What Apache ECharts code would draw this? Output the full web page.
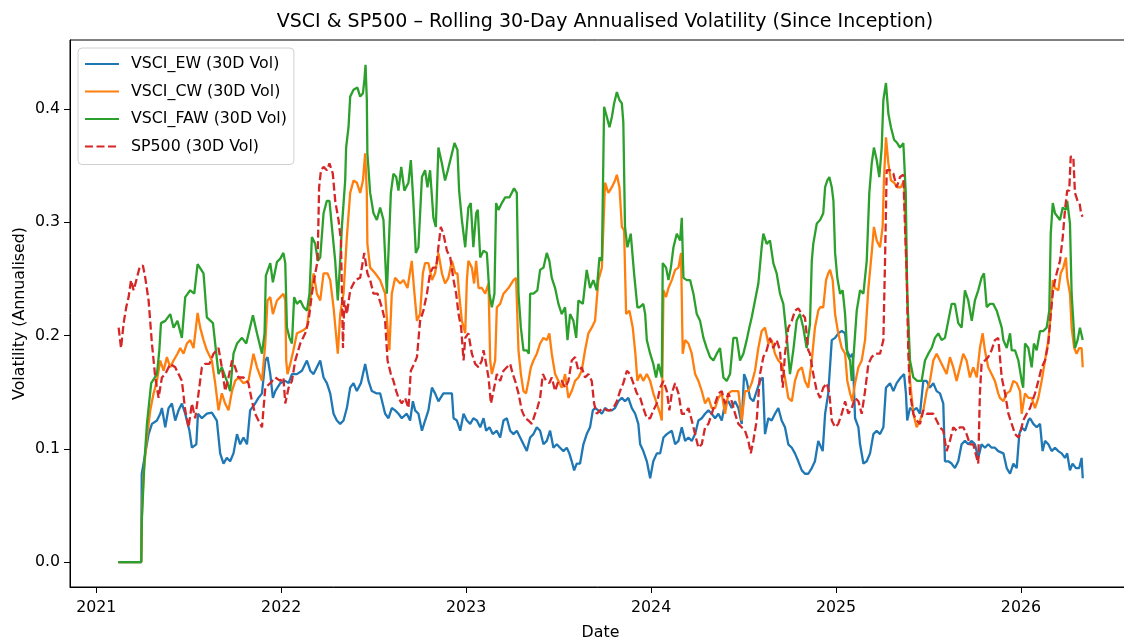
<!DOCTYPE html>
<html>
<head>
    <meta charset="utf-8">
    <title>VSCI & SP500 Rolling 30-Day Volatility</title>
    <script src="https://cdn.jsdelivr.net/npm/echarts@6/dist/echarts.min.js"></script>
    <style>
        html, body { margin: 0; padding: 0; background: #fff; }
    </style>
</head>
<body>
    <div id="main" style="width: 1124px; height: 640px;"></div>

    <script>
        // x = decimal year, y = annualised 30D volatility
        var xTicks = [2021, 2022, 2023, 2024, 2025, 2026];
        var yTicks = [0, 0.1, 0.2, 0.3, 0.4];

        var ewData = [[2021.119,0],[2021.243,0],[2021.246,0.078],[2021.256,0.078],[2021.265,0.096],[2021.283,0.113],[2021.301,0.122],[2021.328,0.125],[2021.346,0.131],[2021.355,0.136],[2021.373,0.119],[2021.391,0.136],[2021.409,0.140],[2021.427,0.125],[2021.445,0.134],[2021.463,0.140],[2021.481,0.131],[2021.504,0.116],[2021.517,0.101],[2021.541,0.104],[2021.550,0.131],[2021.571,0.127],[2021.598,0.131],[2021.625,0.132],[2021.652,0.125],[2021.670,0.096],[2021.688,0.087],[2021.706,0.092],[2021.724,0.089],[2021.742,0.096],[2021.761,0.113],[2021.778,0.104],[2021.796,0.110],[2021.815,0.104],[2021.832,0.134],[2021.859,0.140],[2021.877,0.145],[2021.896,0.149],[2021.914,0.178],[2021.926,0.181],[2021.941,0.166],[2021.955,0.145],[2021.968,0.151],[2021.995,0.158],[2022.022,0.160],[2022.040,0.158],[2022.058,0.166],[2022.085,0.166],[2022.112,0.169],[2022.139,0.178],[2022.157,0.169],[2022.175,0.166],[2022.193,0.172],[2022.211,0.178],[2022.229,0.163],[2022.247,0.158],[2022.265,0.149],[2022.283,0.131],[2022.301,0.125],[2022.319,0.122],[2022.337,0.125],[2022.355,0.136],[2022.373,0.154],[2022.391,0.158],[2022.409,0.151],[2022.431,0.158],[2022.454,0.175],[2022.472,0.160],[2022.490,0.151],[2022.514,0.149],[2022.535,0.149],[2022.562,0.131],[2022.580,0.127],[2022.598,0.136],[2022.616,0.134],[2022.634,0.131],[2022.652,0.127],[2022.679,0.131],[2022.697,0.125],[2022.712,0.142],[2022.724,0.134],[2022.742,0.131],[2022.761,0.116],[2022.778,0.125],[2022.796,0.134],[2022.815,0.154],[2022.832,0.149],[2022.850,0.142],[2022.877,0.149],[2022.904,0.149],[2022.923,0.149],[2022.932,0.127],[2022.950,0.125],[2022.968,0.116],[2022.986,0.131],[2023.004,0.125],[2023.022,0.122],[2023.039,0.127],[2023.058,0.125],[2023.076,0.119],[2023.094,0.127],[2023.108,0.116],[2023.126,0.119],[2023.144,0.113],[2023.166,0.116],[2023.184,0.110],[2023.202,0.125],[2023.220,0.127],[2023.238,0.116],[2023.256,0.113],[2023.274,0.116],[2023.292,0.110],[2023.310,0.104],[2023.328,0.098],[2023.346,0.110],[2023.364,0.113],[2023.382,0.119],[2023.400,0.116],[2023.418,0.104],[2023.436,0.107],[2023.454,0.116],[2023.472,0.101],[2023.490,0.104],[2023.508,0.101],[2023.526,0.098],[2023.544,0.101],[2023.558,0.096],[2023.571,0.089],[2023.584,0.081],[2023.598,0.087],[2023.616,0.087],[2023.634,0.104],[2023.652,0.113],[2023.670,0.119],[2023.685,0.134],[2023.697,0.136],[2023.715,0.134],[2023.734,0.131],[2023.751,0.136],[2023.769,0.134],[2023.788,0.134],[2023.805,0.136],[2023.823,0.142],[2023.842,0.145],[2023.859,0.142],[2023.877,0.145],[2023.896,0.136],[2023.914,0.131],[2023.931,0.122],[2023.941,0.104],[2023.958,0.098],[2023.977,0.089],[2023.995,0.074],[2024.012,0.089],[2024.031,0.096],[2024.049,0.096],[2024.067,0.110],[2024.085,0.113],[2024.112,0.116],[2024.130,0.104],[2024.148,0.107],[2024.166,0.119],[2024.184,0.107],[2024.202,0.110],[2024.220,0.107],[2024.238,0.113],[2024.256,0.125],[2024.274,0.127],[2024.292,0.131],[2024.310,0.134],[2024.328,0.131],[2024.346,0.127],[2024.364,0.131],[2024.382,0.125],[2024.400,0.140],[2024.418,0.142],[2024.436,0.136],[2024.454,0.142],[2024.472,0.136],[2024.490,0.122],[2024.503,0.166],[2024.517,0.160],[2024.535,0.145],[2024.553,0.142],[2024.571,0.151],[2024.589,0.160],[2024.604,0.163],[2024.616,0.113],[2024.634,0.127],[2024.652,0.125],[2024.670,0.131],[2024.688,0.136],[2024.706,0.125],[2024.724,0.119],[2024.742,0.104],[2024.761,0.101],[2024.778,0.096],[2024.796,0.089],[2024.815,0.081],[2024.832,0.078],[2024.850,0.078],[2024.869,0.083],[2024.886,0.089],[2024.904,0.107],[2024.914,0.107],[2024.928,0.098],[2024.941,0.131],[2024.958,0.149],[2024.977,0.196],[2024.995,0.198],[2025.012,0.202],[2025.031,0.204],[2025.049,0.202],[2025.058,0.187],[2025.076,0.181],[2025.090,0.184],[2025.103,0.127],[2025.121,0.119],[2025.130,0.104],[2025.148,0.087],[2025.166,0.089],[2025.184,0.096],[2025.202,0.113],[2025.220,0.116],[2025.238,0.113],[2025.256,0.119],[2025.270,0.154],[2025.292,0.158],[2025.310,0.151],[2025.328,0.158],[2025.350,0.163],[2025.368,0.166],[2025.378,0.149],[2025.385,0.125],[2025.400,0.136],[2025.418,0.134],[2025.436,0.136],[2025.454,0.131],[2025.472,0.160],[2025.490,0.160],[2025.508,0.154],[2025.526,0.158],[2025.544,0.151],[2025.562,0.149],[2025.580,0.140],[2025.589,0.089],[2025.607,0.089],[2025.625,0.087],[2025.643,0.083],[2025.661,0.089],[2025.679,0.104],[2025.697,0.107],[2025.715,0.104],[2025.734,0.107],[2025.751,0.104],[2025.769,0.092],[2025.787,0.104],[2025.805,0.101],[2025.823,0.104],[2025.841,0.101],[2025.859,0.101],[2025.877,0.098],[2025.905,0.096],[2025.923,0.083],[2025.941,0.078],[2025.959,0.087],[2025.977,0.083],[2025.991,0.113],[2026.004,0.119],[2026.022,0.116],[2026.040,0.125],[2026.049,0.127],[2026.067,0.122],[2026.085,0.119],[2026.103,0.122],[2026.117,0.098],[2026.130,0.107],[2026.148,0.104],[2026.166,0.098],[2026.184,0.101],[2026.202,0.098],[2026.220,0.096],[2026.238,0.092],[2026.250,0.096],[2026.265,0.081],[2026.279,0.087],[2026.297,0.083],[2026.315,0.083],[2026.328,0.092],[2026.334,0.074]];

        var cwData = [[2021.119,0],[2021.243,0],[2021.246,0.039],[2021.256,0.078],[2021.274,0.110],[2021.292,0.134],[2021.310,0.149],[2021.328,0.160],[2021.346,0.178],[2021.364,0.169],[2021.382,0.181],[2021.400,0.172],[2021.418,0.178],[2021.439,0.184],[2021.454,0.189],[2021.472,0.184],[2021.490,0.193],[2021.508,0.196],[2021.526,0.189],[2021.548,0.220],[2021.562,0.207],[2021.580,0.196],[2021.598,0.187],[2021.625,0.178],[2021.643,0.158],[2021.661,0.134],[2021.679,0.149],[2021.697,0.140],[2021.715,0.134],[2021.734,0.151],[2021.751,0.160],[2021.769,0.163],[2021.796,0.158],[2021.823,0.160],[2021.850,0.184],[2021.869,0.172],[2021.896,0.160],[2021.914,0.193],[2021.926,0.231],[2021.941,0.234],[2021.955,0.219],[2021.977,0.231],[2021.995,0.234],[2022.012,0.237],[2022.022,0.231],[2022.027,0.178],[2022.034,0.166],[2022.049,0.175],[2022.066,0.187],[2022.085,0.202],[2022.112,0.204],[2022.139,0.207],[2022.157,0.231],[2022.175,0.255],[2022.193,0.237],[2022.211,0.231],[2022.229,0.255],[2022.250,0.255],[2022.265,0.249],[2022.283,0.225],[2022.296,0.202],[2022.306,0.184],[2022.319,0.219],[2022.337,0.237],[2022.355,0.287],[2022.373,0.326],[2022.391,0.337],[2022.409,0.335],[2022.427,0.326],[2022.442,0.337],[2022.454,0.361],[2022.463,0.326],[2022.466,0.281],[2022.481,0.260],[2022.508,0.255],[2022.535,0.249],[2022.562,0.237],[2022.575,0.207],[2022.585,0.187],[2022.598,0.237],[2022.616,0.251],[2022.643,0.246],[2022.661,0.249],[2022.683,0.242],[2022.706,0.266],[2022.719,0.240],[2022.734,0.213],[2022.751,0.219],[2022.766,0.255],[2022.778,0.264],[2022.796,0.264],[2022.815,0.249],[2022.832,0.255],[2022.850,0.273],[2022.869,0.255],[2022.886,0.246],[2022.904,0.251],[2022.923,0.266],[2022.941,0.255],[2022.953,0.255],[2022.962,0.237],[2022.977,0.213],[2022.995,0.202],[2023.004,0.249],[2023.012,0.266],[2023.031,0.260],[2023.043,0.246],[2023.054,0.266],[2023.067,0.242],[2023.085,0.242],[2023.103,0.237],[2023.121,0.246],[2023.130,0.178],[2023.139,0.166],[2023.157,0.178],[2023.166,0.225],[2023.184,0.228],[2023.202,0.237],[2023.229,0.242],[2023.256,0.249],[2023.270,0.251],[2023.283,0.187],[2023.296,0.166],[2023.310,0.151],[2023.324,0.149],[2023.337,0.160],[2023.350,0.172],[2023.364,0.178],[2023.382,0.184],[2023.400,0.193],[2023.418,0.198],[2023.436,0.196],[2023.450,0.202],[2023.463,0.184],[2023.481,0.166],[2023.499,0.160],[2023.517,0.154],[2023.535,0.166],[2023.553,0.145],[2023.571,0.151],[2023.589,0.160],[2023.607,0.163],[2023.625,0.169],[2023.643,0.187],[2023.661,0.202],[2023.679,0.207],[2023.697,0.213],[2023.715,0.249],[2023.734,0.260],[2023.751,0.335],[2023.769,0.326],[2023.788,0.331],[2023.805,0.337],[2023.815,0.342],[2023.829,0.331],[2023.842,0.296],[2023.854,0.293],[2023.865,0.219],[2023.883,0.222],[2023.901,0.207],[2023.915,0.184],[2023.926,0.160],[2023.941,0.166],[2023.958,0.160],[2023.977,0.166],[2023.995,0.160],[2024.012,0.149],[2024.031,0.140],[2024.049,0.131],[2024.058,0.125],[2024.067,0.240],[2024.081,0.234],[2024.094,0.242],[2024.112,0.249],[2024.130,0.258],[2024.148,0.260],[2024.162,0.273],[2024.171,0.184],[2024.184,0.196],[2024.202,0.193],[2024.220,0.184],[2024.238,0.166],[2024.256,0.160],[2024.274,0.151],[2024.292,0.140],[2024.310,0.145],[2024.328,0.136],[2024.346,0.136],[2024.364,0.145],[2024.382,0.149],[2024.400,0.131],[2024.418,0.149],[2024.436,0.151],[2024.454,0.151],[2024.472,0.151],[2024.490,0.125],[2024.508,0.151],[2024.526,0.151],[2024.544,0.158],[2024.562,0.169],[2024.580,0.189],[2024.598,0.204],[2024.616,0.207],[2024.634,0.193],[2024.652,0.196],[2024.670,0.184],[2024.688,0.178],[2024.706,0.175],[2024.724,0.163],[2024.742,0.145],[2024.761,0.142],[2024.778,0.160],[2024.796,0.169],[2024.815,0.172],[2024.832,0.160],[2024.850,0.154],[2024.869,0.178],[2024.886,0.207],[2024.904,0.222],[2024.914,0.225],[2024.931,0.225],[2024.946,0.249],[2024.958,0.255],[2024.968,0.258],[2024.982,0.249],[2024.995,0.219],[2025.012,0.202],[2025.031,0.189],[2025.049,0.184],[2025.061,0.160],[2025.076,0.149],[2025.088,0.142],[2025.103,0.158],[2025.121,0.172],[2025.139,0.178],[2025.157,0.196],[2025.175,0.242],[2025.193,0.273],[2025.205,0.296],[2025.220,0.284],[2025.238,0.278],[2025.252,0.296],[2025.259,0.337],[2025.270,0.375],[2025.283,0.352],[2025.297,0.337],[2025.314,0.335],[2025.331,0.331],[2025.350,0.331],[2025.368,0.337],[2025.378,0.278],[2025.388,0.219],[2025.400,0.160],[2025.418,0.131],[2025.436,0.119],[2025.454,0.125],[2025.472,0.134],[2025.490,0.151],[2025.508,0.160],[2025.526,0.178],[2025.544,0.184],[2025.562,0.178],[2025.580,0.172],[2025.598,0.166],[2025.616,0.181],[2025.634,0.172],[2025.652,0.160],[2025.670,0.172],[2025.688,0.184],[2025.706,0.178],[2025.724,0.163],[2025.742,0.172],[2025.761,0.163],[2025.778,0.189],[2025.793,0.202],[2025.805,0.187],[2025.823,0.172],[2025.841,0.166],[2025.859,0.160],[2025.877,0.149],[2025.886,0.145],[2025.905,0.142],[2025.923,0.149],[2025.941,0.151],[2025.959,0.160],[2025.977,0.158],[2025.995,0.151],[2026.004,0.131],[2026.022,0.149],[2026.040,0.145],[2026.058,0.145],[2026.076,0.136],[2026.094,0.145],[2026.112,0.160],[2026.130,0.178],[2026.148,0.196],[2026.161,0.219],[2026.172,0.249],[2026.184,0.242],[2026.202,0.240],[2026.215,0.255],[2026.229,0.260],[2026.243,0.269],[2026.250,0.251],[2026.265,0.237],[2026.274,0.207],[2026.288,0.189],[2026.301,0.184],[2026.315,0.189],[2026.328,0.189],[2026.334,0.172]];

        var fawData = [[2021.119,0],[2021.243,0],[2021.247,0.039],[2021.261,0.090],[2021.274,0.122],[2021.297,0.158],[2021.328,0.166],[2021.341,0.187],[2021.350,0.211],[2021.373,0.213],[2021.400,0.219],[2021.418,0.207],[2021.439,0.213],[2021.463,0.198],[2021.481,0.234],[2021.508,0.240],[2021.530,0.237],[2021.548,0.263],[2021.580,0.255],[2021.598,0.216],[2021.631,0.211],[2021.661,0.166],[2021.679,0.172],[2021.706,0.160],[2021.724,0.151],[2021.742,0.184],[2021.761,0.193],[2021.788,0.198],[2021.811,0.193],[2021.847,0.218],[2021.869,0.202],[2021.896,0.184],[2021.910,0.202],[2021.917,0.253],[2021.941,0.264],[2021.955,0.247],[2021.977,0.265],[2021.995,0.268],[2022.012,0.273],[2022.022,0.264],[2022.031,0.207],[2022.045,0.198],[2022.058,0.193],[2022.070,0.234],[2022.085,0.228],[2022.103,0.231],[2022.121,0.225],[2022.139,0.222],[2022.153,0.237],[2022.166,0.287],[2022.184,0.281],[2022.198,0.266],[2022.211,0.269],[2022.229,0.308],[2022.247,0.319],[2022.261,0.319],[2022.274,0.296],[2022.292,0.266],[2022.306,0.231],[2022.319,0.266],[2022.328,0.296],[2022.346,0.337],[2022.351,0.366],[2022.364,0.384],[2022.373,0.411],[2022.391,0.417],[2022.412,0.419],[2022.427,0.411],[2022.442,0.414],[2022.450,0.426],[2022.456,0.439],[2022.463,0.408],[2022.466,0.361],[2022.481,0.326],[2022.499,0.308],[2022.517,0.302],[2022.535,0.313],[2022.553,0.302],[2022.571,0.237],[2022.580,0.273],[2022.593,0.326],[2022.607,0.343],[2022.622,0.340],[2022.634,0.328],[2022.649,0.349],[2022.666,0.328],[2022.688,0.335],[2022.701,0.355],[2022.715,0.317],[2022.728,0.273],[2022.742,0.278],[2022.761,0.340],[2022.778,0.346],[2022.791,0.331],[2022.805,0.346],[2022.823,0.304],[2022.836,0.296],[2022.850,0.366],[2022.869,0.352],[2022.886,0.337],[2022.901,0.346],[2022.919,0.358],[2022.937,0.370],[2022.941,0.371],[2022.953,0.364],[2022.962,0.328],[2022.977,0.302],[2022.995,0.278],[2023.012,0.313],[2023.025,0.317],[2023.039,0.278],[2023.054,0.308],[2023.063,0.311],[2023.076,0.269],[2023.094,0.275],[2023.112,0.273],[2023.126,0.237],[2023.139,0.225],[2023.153,0.237],[2023.162,0.317],[2023.175,0.311],[2023.193,0.317],[2023.211,0.322],[2023.234,0.322],[2023.259,0.330],[2023.274,0.326],[2023.283,0.237],[2023.296,0.207],[2023.310,0.187],[2023.328,0.187],[2023.339,0.184],[2023.346,0.237],[2023.364,0.237],[2023.385,0.240],[2023.400,0.258],[2023.418,0.260],[2023.436,0.273],[2023.450,0.266],[2023.463,0.251],[2023.481,0.242],[2023.499,0.228],[2023.517,0.219],[2023.535,0.225],[2023.548,0.196],[2023.562,0.219],[2023.580,0.213],[2023.595,0.198],[2023.607,0.231],[2023.631,0.228],[2023.652,0.258],[2023.670,0.242],[2023.688,0.249],[2023.706,0.240],[2023.721,0.269],[2023.734,0.266],[2023.746,0.402],[2023.761,0.393],[2023.775,0.384],[2023.788,0.393],[2023.800,0.405],[2023.815,0.415],[2023.829,0.408],[2023.842,0.405],[2023.850,0.388],[2023.859,0.296],[2023.872,0.278],[2023.890,0.290],[2023.908,0.255],[2023.926,0.225],[2023.937,0.225],[2023.958,0.228],[2023.968,0.219],[2023.977,0.196],[2023.995,0.184],[2024.012,0.175],[2024.027,0.163],[2024.040,0.175],[2024.058,0.163],[2024.063,0.264],[2024.081,0.260],[2024.094,0.249],[2024.107,0.260],[2024.121,0.278],[2024.139,0.290],[2024.157,0.284],[2024.166,0.304],[2024.175,0.251],[2024.193,0.249],[2024.211,0.249],[2024.229,0.237],[2024.247,0.219],[2024.265,0.213],[2024.283,0.198],[2024.301,0.189],[2024.319,0.181],[2024.337,0.178],[2024.355,0.184],[2024.373,0.189],[2024.391,0.163],[2024.409,0.160],[2024.427,0.166],[2024.445,0.198],[2024.463,0.198],[2024.481,0.178],[2024.499,0.184],[2024.517,0.196],[2024.531,0.207],[2024.544,0.216],[2024.562,0.231],[2024.580,0.246],[2024.598,0.278],[2024.607,0.290],[2024.625,0.281],[2024.643,0.284],[2024.661,0.264],[2024.679,0.255],[2024.697,0.237],[2024.715,0.228],[2024.734,0.198],[2024.751,0.166],[2024.769,0.187],[2024.787,0.213],[2024.805,0.219],[2024.823,0.207],[2024.841,0.189],[2024.859,0.210],[2024.869,0.266],[2024.877,0.281],[2024.896,0.299],[2024.914,0.302],[2024.931,0.308],[2024.941,0.331],[2024.953,0.337],[2024.964,0.340],[2024.977,0.331],[2024.986,0.319],[2024.995,0.273],[2025.007,0.251],[2025.022,0.237],[2025.036,0.240],[2025.049,0.219],[2025.061,0.184],[2025.076,0.178],[2025.085,0.160],[2025.097,0.187],[2025.112,0.222],[2025.130,0.240],[2025.148,0.237],[2025.166,0.266],[2025.180,0.326],[2025.193,0.352],[2025.205,0.366],[2025.220,0.355],[2025.234,0.340],[2025.247,0.366],[2025.256,0.408],[2025.270,0.423],[2025.283,0.396],[2025.297,0.384],[2025.314,0.373],[2025.331,0.370],[2025.346,0.366],[2025.364,0.370],[2025.377,0.326],[2025.385,0.237],[2025.400,0.178],[2025.418,0.163],[2025.439,0.160],[2025.463,0.160],[2025.481,0.178],[2025.499,0.184],[2025.517,0.189],[2025.535,0.198],[2025.553,0.202],[2025.571,0.196],[2025.589,0.198],[2025.607,0.213],[2025.625,0.228],[2025.643,0.228],[2025.661,0.211],[2025.679,0.207],[2025.697,0.240],[2025.715,0.231],[2025.734,0.213],[2025.751,0.231],[2025.769,0.240],[2025.787,0.251],[2025.800,0.255],[2025.815,0.225],[2025.832,0.228],[2025.850,0.228],[2025.869,0.222],[2025.896,0.207],[2025.905,0.196],[2025.923,0.189],[2025.941,0.202],[2025.950,0.187],[2025.968,0.187],[2025.986,0.178],[2026.004,0.160],[2026.012,0.154],[2026.022,0.193],[2026.040,0.189],[2026.058,0.172],[2026.070,0.193],[2026.085,0.187],[2026.103,0.204],[2026.121,0.204],[2026.139,0.207],[2026.153,0.222],[2026.161,0.290],[2026.172,0.317],[2026.184,0.308],[2026.202,0.304],[2026.211,0.302],[2026.226,0.313],[2026.243,0.311],[2026.250,0.319],[2026.265,0.299],[2026.274,0.237],[2026.283,0.237],[2026.292,0.189],[2026.306,0.196],[2026.319,0.207],[2026.334,0.196]];

        var spData = [[2021.121,0.207],[2021.134,0.189],[2021.148,0.211],[2021.162,0.225],[2021.175,0.234],[2021.188,0.249],[2021.202,0.240],[2021.220,0.251],[2021.234,0.260],[2021.252,0.262],[2021.265,0.251],[2021.283,0.231],[2021.301,0.193],[2021.319,0.163],[2021.337,0.145],[2021.355,0.163],[2021.373,0.166],[2021.400,0.175],[2021.427,0.172],[2021.445,0.166],[2021.463,0.160],[2021.481,0.134],[2021.499,0.119],[2021.517,0.140],[2021.535,0.127],[2021.553,0.149],[2021.571,0.172],[2021.589,0.175],[2021.612,0.175],[2021.634,0.184],[2021.661,0.189],[2021.679,0.172],[2021.697,0.151],[2021.715,0.163],[2021.734,0.178],[2021.751,0.172],[2021.769,0.163],[2021.796,0.163],[2021.823,0.158],[2021.842,0.142],[2021.859,0.131],[2021.877,0.125],[2021.896,0.119],[2021.914,0.154],[2021.941,0.158],[2021.968,0.163],[2021.995,0.160],[2022.012,0.163],[2022.022,0.140],[2022.040,0.154],[2022.058,0.160],[2022.076,0.178],[2022.103,0.193],[2022.130,0.202],[2022.148,0.213],[2022.166,0.237],[2022.184,0.255],[2022.197,0.266],[2022.205,0.331],[2022.215,0.346],[2022.229,0.349],[2022.247,0.346],[2022.261,0.352],[2022.279,0.343],[2022.292,0.319],[2022.310,0.302],[2022.323,0.284],[2022.334,0.189],[2022.341,0.231],[2022.355,0.219],[2022.373,0.240],[2022.400,0.249],[2022.427,0.251],[2022.449,0.273],[2022.466,0.255],[2022.481,0.249],[2022.499,0.237],[2022.521,0.237],[2022.544,0.225],[2022.562,0.213],[2022.575,0.178],[2022.593,0.166],[2022.607,0.160],[2022.622,0.151],[2022.634,0.145],[2022.652,0.140],[2022.670,0.145],[2022.688,0.136],[2022.701,0.169],[2022.719,0.175],[2022.734,0.181],[2022.751,0.213],[2022.769,0.222],[2022.788,0.237],[2022.805,0.255],[2022.820,0.260],[2022.838,0.260],[2022.850,0.278],[2022.863,0.296],[2022.877,0.290],[2022.896,0.275],[2022.914,0.269],[2022.932,0.249],[2022.946,0.237],[2022.959,0.219],[2022.973,0.207],[2022.986,0.178],[2022.995,0.198],[2023.012,0.202],[2023.031,0.184],[2023.049,0.175],[2023.067,0.172],[2023.085,0.178],[2023.094,0.187],[2023.108,0.175],[2023.121,0.163],[2023.134,0.140],[2023.148,0.151],[2023.166,0.166],[2023.184,0.160],[2023.202,0.169],[2023.220,0.172],[2023.238,0.175],[2023.252,0.166],[2023.265,0.160],[2023.283,0.149],[2023.301,0.134],[2023.319,0.127],[2023.337,0.125],[2023.355,0.122],[2023.373,0.131],[2023.385,0.136],[2023.400,0.145],[2023.415,0.166],[2023.432,0.160],[2023.450,0.158],[2023.463,0.163],[2023.481,0.151],[2023.499,0.160],[2023.517,0.160],[2023.535,0.154],[2023.553,0.160],[2023.571,0.178],[2023.589,0.181],[2023.607,0.169],[2023.625,0.172],[2023.643,0.163],[2023.661,0.166],[2023.679,0.160],[2023.692,0.140],[2023.706,0.131],[2023.724,0.134],[2023.742,0.136],[2023.761,0.134],[2023.778,0.134],[2023.796,0.136],[2023.815,0.142],[2023.832,0.151],[2023.850,0.158],[2023.869,0.169],[2023.886,0.166],[2023.904,0.158],[2023.923,0.149],[2023.941,0.145],[2023.958,0.136],[2023.977,0.127],[2023.995,0.127],[2024.012,0.134],[2024.031,0.140],[2024.049,0.154],[2024.067,0.160],[2024.085,0.151],[2024.099,0.134],[2024.112,0.149],[2024.130,0.158],[2024.148,0.149],[2024.166,0.131],[2024.184,0.131],[2024.202,0.136],[2024.220,0.125],[2024.238,0.113],[2024.256,0.101],[2024.274,0.104],[2024.292,0.119],[2024.310,0.122],[2024.328,0.131],[2024.346,0.140],[2024.364,0.149],[2024.382,0.151],[2024.400,0.140],[2024.418,0.149],[2024.436,0.142],[2024.454,0.131],[2024.472,0.122],[2024.490,0.119],[2024.508,0.116],[2024.526,0.107],[2024.539,0.096],[2024.553,0.107],[2024.571,0.125],[2024.589,0.166],[2024.607,0.181],[2024.625,0.187],[2024.643,0.198],[2024.661,0.189],[2024.679,0.196],[2024.697,0.187],[2024.712,0.154],[2024.724,0.184],[2024.742,0.207],[2024.761,0.213],[2024.778,0.222],[2024.796,0.224],[2024.815,0.219],[2024.832,0.216],[2024.850,0.187],[2024.859,0.184],[2024.877,0.166],[2024.896,0.151],[2024.914,0.145],[2024.931,0.154],[2024.950,0.158],[2024.964,0.149],[2024.977,0.125],[2024.995,0.119],[2025.012,0.122],[2025.031,0.131],[2025.049,0.142],[2025.067,0.131],[2025.085,0.136],[2025.103,0.145],[2025.121,0.142],[2025.139,0.131],[2025.157,0.151],[2025.175,0.175],[2025.193,0.181],[2025.211,0.184],[2025.238,0.184],[2025.256,0.196],[2025.265,0.266],[2025.274,0.346],[2025.292,0.346],[2025.310,0.343],[2025.328,0.331],[2025.346,0.340],[2025.364,0.342],[2025.373,0.296],[2025.382,0.255],[2025.391,0.184],[2025.400,0.149],[2025.418,0.131],[2025.436,0.125],[2025.454,0.122],[2025.472,0.134],[2025.490,0.131],[2025.508,0.131],[2025.526,0.131],[2025.544,0.125],[2025.562,0.119],[2025.580,0.116],[2025.598,0.098],[2025.616,0.107],[2025.634,0.119],[2025.652,0.116],[2025.670,0.119],[2025.688,0.119],[2025.706,0.113],[2025.724,0.104],[2025.742,0.104],[2025.761,0.092],[2025.769,0.087],[2025.778,0.149],[2025.787,0.175],[2025.805,0.178],[2025.823,0.181],[2025.841,0.187],[2025.859,0.196],[2025.877,0.198],[2025.896,0.163],[2025.914,0.149],[2025.932,0.131],[2025.950,0.122],[2025.968,0.113],[2025.986,0.110],[2025.995,0.113],[2026.012,0.125],[2026.031,0.131],[2026.049,0.136],[2026.076,0.149],[2026.094,0.160],[2026.112,0.172],[2026.130,0.178],[2026.148,0.193],[2026.161,0.219],[2026.175,0.242],[2026.193,0.255],[2026.211,0.266],[2026.226,0.287],[2026.238,0.311],[2026.250,0.328],[2026.261,0.328],[2026.269,0.358],[2026.283,0.358],[2026.292,0.326],[2026.306,0.319],[2026.317,0.317],[2026.325,0.308],[2026.333,0.305]];

        var seriesNames = ['VSCI_EW (30D Vol)', 'VSCI_CW (30D Vol)', 'VSCI_FAW (30D Vol)', 'SP500 (30D Vol)'];
        var seriesColors = ['#1f77b4', '#ff7f0e', '#2ca02c', '#d62728'];
        var seriesData = [ewData, cwData, fawData, spData];

        var font = 'DejaVu Sans';
        var chart = echarts.init(document.getElementById('main'), null, { renderer: 'canvas' });

        var series = [];
        for (var i = 0; i < seriesData.length; i++) {
            series.push({
                name: seriesNames[i],
                type: 'line',
                data: seriesData[i],
                symbol: 'none',
                smooth: false,
                lineStyle: {
                    color: seriesColors[i],
                    width: 2.3,
                    type: i === 3 ? [8, 3.5] : 'solid'
                },
                itemStyle: { color: seriesColors[i] }
            });
        }

        var option = {
            animation: false,
            backgroundColor: '#fff',
            title: {
                text: 'VSCI & SP500 \u2013 Rolling 30-Day Annualised Volatility (Since Inception)',
                left: 600,
                textAlign: 'center',
                top: 8,
                textStyle: { fontFamily: font, fontSize: 19, fontWeight: 'normal', color: '#000' }
            },
            legend: {
                orient: 'vertical',
                left: 78,
                top: 48,
                padding: [8, 7, 10, 6],
                itemWidth: 34,
                itemHeight: 16,
                itemGap: 11.5,
                backgroundColor: 'rgba(255,255,255,0.8)',
                borderColor: '#d0d0d0',
                borderWidth: 1,
                borderRadius: 4,
                itemStyle: { opacity: 0 },
                textStyle: { fontFamily: font, fontSize: 15.8, color: '#000', padding: [0, 0, 0, 7] }
            },
            grid: {
                left: 70, right: -7, top: 40, bottom: 53,
                outerBoundsMode: 'none',
                containLabel: false,
                show: true, borderColor: '#000', borderWidth: 1, backgroundColor: 'transparent'
            },
            xAxis: {
                type: 'value',
                min: 2020.858,
                max: 2026.595,
                name: 'Date',
                nameLocation: 'middle',
                nameGap: 38,
                nameMoveOverlap: false,
                nameTextStyle: { fontFamily: font, fontSize: 15.8, color: '#000' },
                axisLine: { show: true, onZero: false, lineStyle: { color: '#000', width: 1 } },
                axisTick: { show: true, customValues: xTicks, length: 6, lineStyle: { color: '#000' } },
                axisLabel: {
                    customValues: xTicks,
                    margin: 13,
                    fontFamily: font, fontSize: 15.8, color: '#000',
                    formatter: function (v) { return String(Math.round(v)); }
                },
                splitLine: { show: false }
            },
            yAxis: {
                type: 'value',
                min: -0.022,
                max: 0.461,
                name: 'Volatility (Annualised)',
                nameLocation: 'middle',
                nameGap: 42,
                nameMoveOverlap: false,
                nameTextStyle: { fontFamily: font, fontSize: 15.8, color: '#000' },
                axisLine: { show: true, onZero: false, lineStyle: { color: '#000', width: 1 } },
                axisTick: { show: true, customValues: yTicks, length: 6, lineStyle: { color: '#000' } },
                axisLabel: {
                    customValues: yTicks,
                    margin: 10,
                    fontFamily: font, fontSize: 15.8, color: '#000',
                    formatter: function (v) { return v.toFixed(1); }
                },
                splitLine: { show: false }
            },
            series: series
        };

        chart.setOption(option);
    </script>
</body>
</html>
